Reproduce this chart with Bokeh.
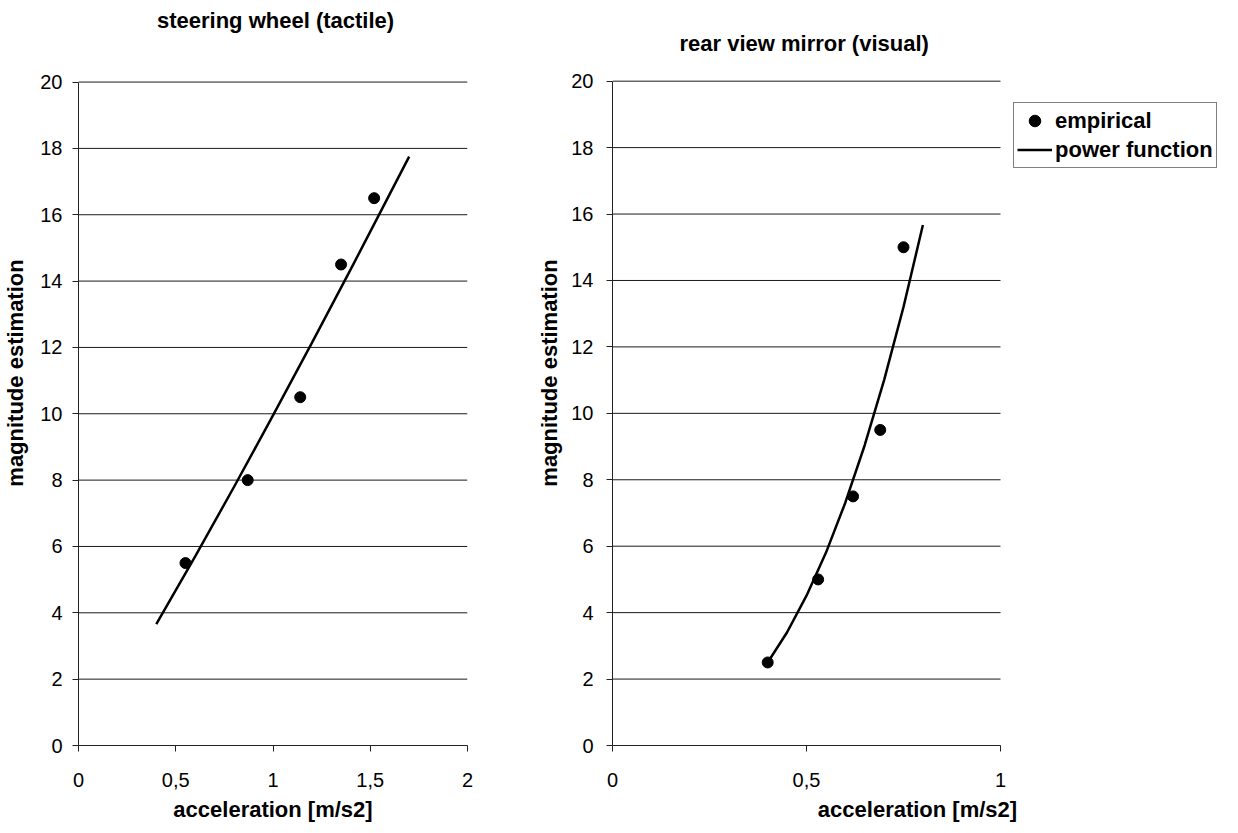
from bokeh.plotting import figure
from bokeh.layouts import row
from bokeh.models import Range1d, FixedTicker, Label, Legend, LegendItem
from bokeh.embed import file_html
from bokeh.resources import INLINE

# ---- data ----
left_title = "steering wheel (tactile)"
right_title = "rear view mirror (visual)"
x_label = "acceleration [m/s2]"
y_label = "magnitude estimation"

left_emp_x = [0.55, 0.87, 1.14, 1.35, 1.52]
left_emp_y = [5.5, 8.0, 10.5, 14.5, 16.5]
left_fit_x = [0.4, 0.6, 0.8, 1.0, 1.2, 1.4, 1.6, 1.7]
left_fit_y = [3.66, 5.70, 7.80, 9.95, 12.14, 14.36, 16.62, 17.75]

right_emp_x = [0.40, 0.53, 0.62, 0.69, 0.75]
right_emp_y = [2.5, 5.0, 7.5, 9.5, 15.0]
right_fit_x = [0.40, 0.45, 0.50, 0.55, 0.60, 0.65, 0.70, 0.75, 0.80]
right_fit_y = [2.5, 3.41, 4.51, 5.80, 7.31, 9.04, 11.00, 13.20, 15.67]

y_ticks = [0, 2, 4, 6, 8, 10, 12, 14, 16, 18, 20]
left_x_ticks = [0, 0.5, 1, 1.5, 2]
left_x_tick_labels = ["0", "0,5", "1", "1,5", "2"]
right_x_ticks = [0, 0.5, 1]
right_x_tick_labels = ["0", "0,5", "1"]

legend_labels = ["empirical", "power function"]

FONT = "Liberation Sans"
FIG_H = 824
PX_PER_UNIT = 33.35


def make_fig(width, x_max, x_view_end, y_view_end, bl, br, bb, xticks, xlabels,
             title, tx, ty, lab_standoff, axlab_standoff):
    p = figure(width=width, height=FIG_H, output_backend="svg", toolbar_location=None,
               title=None,
               x_range=Range1d(0, x_view_end), y_range=Range1d(0, y_view_end),
               min_border_left=bl, min_border_right=br, min_border_top=0, min_border_bottom=bb)
    p.outline_line_color = None
    p.background_fill_color = "white"
    p.border_fill_color = "white"
    p.xgrid.visible = False
    p.ygrid.visible = False
    # horizontal gridlines spanning the data area only
    p.segment(x0=[0] * len(y_ticks), x1=[x_max] * len(y_ticks), y0=y_ticks, y1=y_ticks,
              line_color="#1a1a1a", line_width=1)

    p.xaxis.ticker = FixedTicker(ticks=xticks)
    p.xaxis.major_label_overrides = {t: l for t, l in zip(xticks, xlabels)}
    p.xaxis.bounds = (0, x_max)
    p.yaxis.ticker = FixedTicker(ticks=y_ticks)
    p.yaxis.bounds = (0, 20)
    for ax in (p.xaxis[0], p.yaxis[0]):
        ax.minor_tick_line_color = None
        ax.major_tick_in = 0
        ax.major_tick_out = 6
        ax.major_tick_line_color = "#222222"
        ax.axis_line_color = "#222222"
        ax.major_label_text_font = FONT
        ax.major_label_text_font_size = "20px"
        ax.major_label_text_color = "black"
        ax.axis_label_text_font = FONT
        ax.axis_label_text_font_size = "22px"
        ax.axis_label_text_font_style = "bold"
        ax.axis_label_text_color = "black"
    p.xaxis.axis_label = x_label
    p.yaxis.axis_label = y_label
    p.xaxis.major_label_standoff = 21
    p.xaxis.axis_label_standoff = 7
    p.yaxis.major_label_standoff = lab_standoff
    p.yaxis.axis_label_standoff = axlab_standoff

    p.add_layout(Label(x=tx, y=ty, text=title, text_font=FONT, text_font_size="22px",
                       text_font_style="bold", text_align="center", text_baseline="middle",
                       text_color="black"))
    return p


# left chart: frame y=20 at 82 px, y=0 at 749 px from the figure top
p1 = make_fig(522, 2, 2, 20 + 82 / PX_PER_UNIT, 74, 55, FIG_H - 749, left_x_ticks,
              left_x_tick_labels, left_title, 1.013, 21.86, 10, 9)
p1.line(left_fit_x, left_fit_y, line_color="black", line_width=2.5)
p1.scatter(left_emp_x, left_emp_y, size=11, color="black")

# right chart: frame reaches the figure's right edge so the legend fits inside it
p2 = make_fig(700, 1, (700 - 90) / 388, 20 + 81 / PX_PER_UNIT, 90, 0, FIG_H - 748, right_x_ticks,
              right_x_tick_labels, right_title, 0.494, 21.14, 13, 6)
r_line = p2.line(right_fit_x, right_fit_y, line_color="black", line_width=2.5)
r_pts = p2.scatter(right_emp_x, right_emp_y, size=11, color="black")

legend = Legend(items=[LegendItem(label=legend_labels[0], renderers=[r_pts]),
                       LegendItem(label=legend_labels[1], renderers=[r_line])],
                location=(401, 577), orientation="vertical")
legend.border_line_color = "black"
legend.border_line_width = 1
legend.background_fill_color = "white"
legend.background_fill_alpha = 1
legend.label_text_font = FONT
legend.label_text_font_size = "22px"
legend.label_text_font_style = "bold"
legend.label_text_color = "black"
legend.glyph_width = 35
legend.glyph_height = 29
legend.label_height = 29
legend.label_standoff = 3
legend.padding = 3
legend.spacing = 0
legend.margin = 0
p2.add_layout(legend, "center")

layout = row(p1, p2)
open("out.html", "w").write(file_html(layout, INLINE))
